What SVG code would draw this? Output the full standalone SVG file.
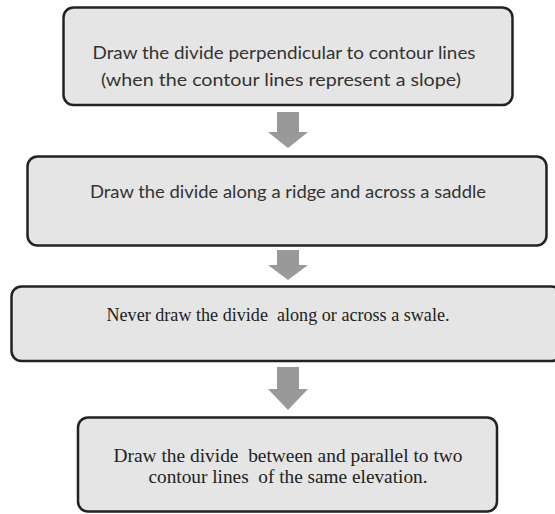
<svg xmlns="http://www.w3.org/2000/svg" width="555" height="514" viewBox="0 0 555 514">
<style>
.box{fill:#e5e5e5;stroke:#222;stroke-width:2.5}
.sans{font-family:Lato,"Open Sans","Liberation Sans",sans-serif;font-size:18px;fill:#333;text-anchor:middle}
.serif{font-family:"Liberation Serif","Times New Roman",serif;font-size:19px;fill:#222;text-anchor:middle}
.arrow{fill:#999}
</style>
<rect width="555" height="514" fill="#fff"/>
<g id="connectors">
<path class="arrow" d="M277,112 H299 V132 H308 L288,148 L268,132 H277 Z"/>
<path class="arrow" d="M277,250 H299 V265 H308 L288,280 L268,265 H277 Z"/>
<path class="arrow" d="M277,367 H299 V389 H308 L288,410 L268,389 H277 Z"/>
</g>
<g id="node1">
<rect class="box" x="63.5" y="7.5" width="449" height="97.5" rx="10"/>
<text class="sans" x="284" y="59" textLength="383" lengthAdjust="spacingAndGlyphs">Draw the divide perpendicular to contour lines</text>
<text class="sans" x="281" y="86" textLength="360" lengthAdjust="spacingAndGlyphs">(when the contour lines represent a slope)</text>
</g>
<g id="node2">
<rect class="box" x="27.5" y="156.5" width="519" height="89" rx="10"/>
<text class="sans" x="288" y="198" textLength="396" lengthAdjust="spacingAndGlyphs">Draw the divide along a ridge and across a saddle</text>
</g>
<g id="node3">
<rect class="box" x="11.5" y="286.5" width="550" height="74.5" rx="10"/>
<text class="serif" x="278" y="321" textLength="343" lengthAdjust="spacingAndGlyphs" xml:space="preserve">Never draw the divide  along or across a swale.</text>
</g>
<g id="node4">
<rect class="box" x="78" y="417.5" width="419" height="94" rx="10"/>
<text class="serif" x="288" y="462" textLength="349" lengthAdjust="spacingAndGlyphs" xml:space="preserve">Draw the divide  between and parallel to two</text>
<text class="serif" x="288" y="483" textLength="279" lengthAdjust="spacingAndGlyphs" xml:space="preserve">contour lines  of the same elevation.</text>
</g>
</svg>
